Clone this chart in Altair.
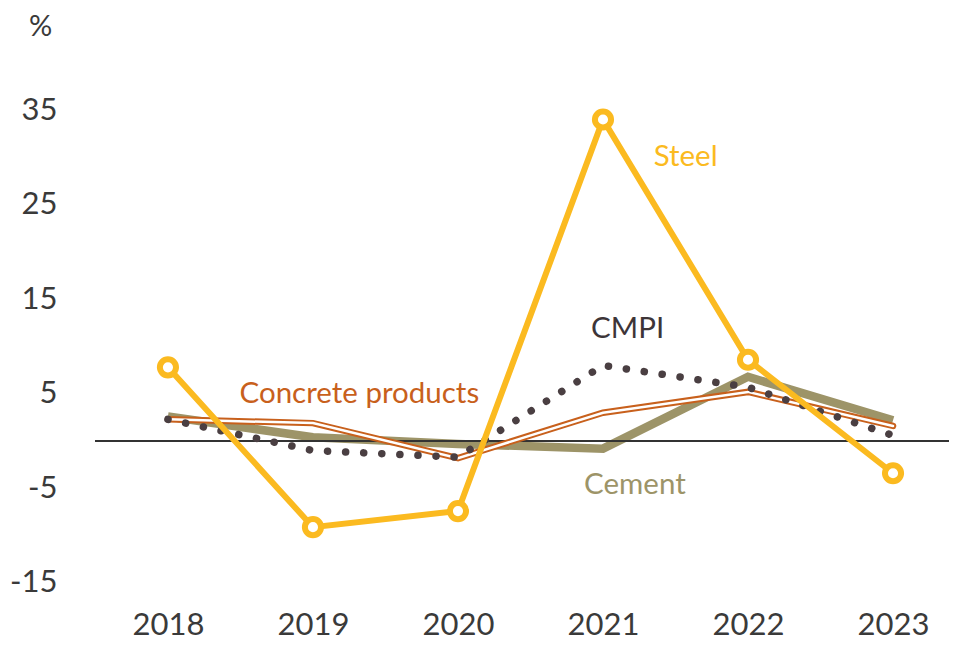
import altair as alt
import pandas as pd

years = [2018, 2019, 2020, 2021, 2022, 2023]
steel = [7.8, -9.1, -7.4, 34.0, 8.6, -3.4]
cmpi = [2.3, -1.0, -1.7, 8.0, 5.7, 0.6]
cement = [2.6, 0.4, -0.3, -0.8, 6.8, 2.2]
concrete = [2.3, 1.9, -1.8, 3.0, 5.2, 1.6]
y_ticks = [-15, -5, 5, 15, 25, 35]

label_text = ["Steel", "CMPI", "Concrete products", "Cement"]
label_x = [2021.57, 2021.17, 2019.32, 2021.22]
label_y = [30.0, 11.9, 5.0, -4.6]
label_color = ["#FBBA20", "#3D3538", "#C8601C", "#9D9468"]

FONT = "Lato"
XDOM = [2017.497, 2023.386]
YDOM = [-16.8, 40.29]

def frame(vals):
    return pd.DataFrame({"year": years, "v": vals})

xenc = alt.X("year:Q", scale=alt.Scale(domain=XDOM, nice=False, zero=False),
             axis=alt.Axis(values=years, format="d", title=None, domain=False, ticks=False,
                           grid=False, labelFontSize=31, labelColor="#3a3a3a", labelFont=FONT,
                           labelPadding=10, labelFlush=False))
yenc = alt.Y("v:Q", scale=alt.Scale(domain=YDOM, nice=False, zero=False),
             axis=alt.Axis(values=y_ticks, labelExpr="'' + datum.value", title="%", titleAngle=0,
                           titleX=-55, titleY=-34,
                           titleAlign="center", titleBaseline="middle", titleFontSize=29,
                           titleFontWeight="normal", titleColor="#3a3a3a", titleFont=FONT,
                           domain=False, ticks=False, grid=False, labelFontSize=31,
                           labelColor="#3a3a3a", labelFont=FONT, labelPadding=38))

zero = alt.Chart(pd.DataFrame({"v": [0]})).mark_rule(color="#333333", strokeWidth=2).encode(
    y=alt.Y("v:Q", scale=alt.Scale(domain=YDOM, nice=False, zero=False))
)

base_x = alt.X("year:Q", scale=alt.Scale(domain=XDOM, nice=False, zero=False))
base_y = alt.Y("v:Q", scale=alt.Scale(domain=YDOM, nice=False, zero=False))

cement_l = alt.Chart(frame(cement)).mark_line(color="#9D9468", strokeWidth=8.5,
                                              strokeJoin="miter", strokeCap="butt").encode(x=xenc, y=yenc)
conc_outer = alt.Chart(frame(concrete)).mark_line(color="#C8601C", strokeWidth=6.5,
                                                  strokeCap="round").encode(x=base_x, y=base_y)
conc_inner = alt.Chart(frame(concrete)).mark_line(color="white", strokeWidth=2.5,
                                                  strokeCap="round").encode(x=base_x, y=base_y)
cmpi_l = alt.Chart(frame(cmpi)).mark_line(color="#4A3F42", strokeWidth=7.5, strokeCap="round",
                                          strokeDash=[0.1, 18]).encode(x=base_x, y=base_y)
steel_l = alt.Chart(frame(steel)).mark_line(color="#FBBA20", strokeWidth=6).encode(x=base_x, y=base_y)
steel_p = alt.Chart(frame(steel)).mark_point(shape="circle", filled=True, fill="white",
                                             stroke="#FBBA20", strokeWidth=6, size=260,
                                             opacity=1).encode(x=base_x, y=base_y)

labels = alt.Chart(pd.DataFrame({"t": label_text, "x": label_x, "y": label_y, "c": label_color})).mark_text(
    fontSize=29.5, font=FONT, align="center", baseline="middle"
).encode(
    x=alt.X("x:Q", scale=alt.Scale(domain=XDOM, nice=False, zero=False)),
    y=alt.Y("y:Q", scale=alt.Scale(domain=YDOM, nice=False, zero=False)),
    text="t:N",
    color=alt.Color("c:N", scale=None),
)

chart = alt.layer(cement_l, zero, conc_outer, conc_inner, cmpi_l, steel_l, steel_p, labels).properties(
    width=854, height=540, autosize="none", background="white",
    padding={"left": 87, "top": 52, "right": 0, "bottom": 40},
).configure_view(strokeWidth=0, stroke="transparent")

chart.save("out.html", embed_options={"renderer": "svg", "actions": False})
